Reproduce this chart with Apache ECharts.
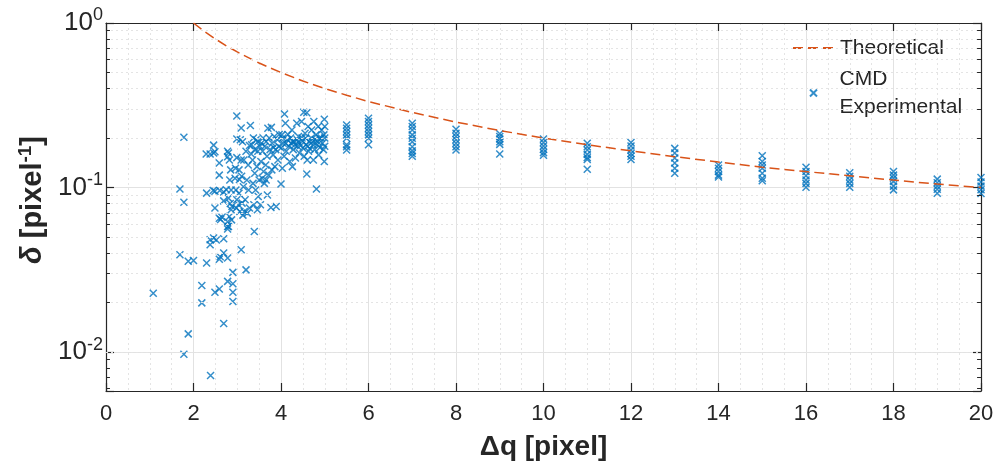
<!DOCTYPE html>
<html><head><meta charset="utf-8">
<script src="https://cdn.jsdelivr.net/npm/echarts@6/dist/echarts.min.js"></script>
<style>html,body{margin:0;padding:0;background:#fff}#c{width:996px;height:463px}</style>
</head><body><div id="c"></div>
<script>
// Theoretical curve
const theoryX = [2,2.25,2.5,2.75,3,3.5,4,4.5,5,5.5,6,7,8,9,10,11,12,13,14,15,16,17,18,19,20];
const theoryY = [1,0.889,0.8,0.727,0.667,0.571,0.5,0.444,0.4,0.364,0.333,0.286,0.25,0.222,0.2,0.182,0.167,0.154,0.143,0.133,0.125,0.118,0.111,0.105,0.1];

// CMD experimental points, cluster region (x, delta)
const cmdCluster = [
[1.08,0.0228],[1.78,0.202],[1.69,0.098],[1.78,0.0815],[1.69,0.039],[1.88,0.0356],[2.0,0.036],[1.88,0.0129],[1.78,0.0097],[2.39,0.0072],
[2.30,0.0348],[2.19,0.0254],[2.19,0.0199],[2.49,0.0231],[2.59,0.0242],[2.69,0.0149],[2.78,0.0269],[2.90,0.026],[2.90,0.0231],[2.90,0.0203],[2.90,0.0305],[3.20,0.0316],[3.09,0.0419],[3.39,0.054],
[2.59,0.0367],[2.61,0.038],[2.69,0.040],[2.78,0.0373],[2.38,0.0482],[2.46,0.0493],[2.52,0.048],[2.38,0.0449],[2.69,0.0489],
[2.59,0.065],[2.65,0.066],[2.62,0.064],[2.78,0.058],[2.78,0.056],[2.78,0.062],[2.49,0.075],[2.69,0.083],[2.30,0.0925],[2.49,0.095],[2.69,0.094],
[2.45,0.096],[2.60,0.096],[2.75,0.097],
[2.59,0.119],[2.59,0.141],[2.29,0.160],[2.38,0.160],[2.46,0.162],[2.49,0.165],[2.46,0.181],[2.78,0.166],[2.78,0.154],
[2.99,0.272],[3.09,0.230],[2.99,0.197],[3.07,0.195],[2.99,0.152],[3.09,0.147],
[2.80,0.162],[2.82,0.147],[2.85,0.128],[2.83,0.111],[2.86,0.0967],[2.80,0.0862],[2.84,0.080],[2.88,0.0767],[2.86,0.0732],[2.82,0.0667],[2.87,0.0636],[2.80,0.058],
[2.96,0.131],[3.04,0.128],[2.95,0.114],[3.05,0.112],[2.97,0.0967],[3.04,0.0924],[2.99,0.0842],[3.03,0.0785],[2.98,0.075],[3.06,0.0715],
[3.12,0.19],[3.20,0.166],[3.15,0.147],[3.25,0.137],[3.10,0.117],[3.22,0.111],[3.14,0.101],[3.26,0.0967],[3.18,0.0842],[3.11,0.0804],[3.28,0.075],[3.16,0.0715],[3.23,0.0699],[3.13,0.068],
[3.30,0.238],[3.37,0.20],[3.43,0.195],[3.33,0.182],[3.47,0.166],[3.35,0.147],[3.45,0.134],[3.40,0.122],[3.50,0.111],[3.36,0.106],[3.42,0.0967],[3.48,0.0882],[3.38,0.0785],[3.46,0.0732],
[3.70,0.229],[3.55,0.186],[3.63,0.178],[3.58,0.166],[3.68,0.155],[3.54,0.144],[3.65,0.137],[3.60,0.125],[3.72,0.119],[3.57,0.114],[3.66,0.111],[3.62,0.106],[3.69,0.090],[3.53,0.0785],
[3.78,0.232],[3.85,0.204],[3.92,0.195],[3.80,0.186],[3.95,0.178],[3.88,0.17],[3.82,0.158],[3.93,0.147],[3.86,0.134],[3.79,0.128],[3.89,0.0767],[3.77,0.0757],
[4.08,0.28],[4.10,0.246],[4.02,0.209],[4.15,0.195],[4.05,0.186],[4.18,0.178],[4.00,0.174],[4.12,0.166],[4.07,0.155],[4.20,0.144],[4.03,0.131],[4.00,0.105],
[4.36,0.246],[4.25,0.224],[4.40,0.204],[4.30,0.19],[4.23,0.186],[4.38,0.178],[4.28,0.17],[4.42,0.162],[4.33,0.151],[4.26,0.134],
[4.52,0.287],[4.59,0.285],[4.47,0.252],[4.62,0.235],[4.55,0.214],[4.48,0.20],[4.65,0.19],[4.57,0.182],[4.50,0.174],[4.63,0.166],[4.53,0.155],[4.60,0.147],[4.59,0.121],
[4.75,0.252],[4.85,0.235],[4.70,0.224],[4.80,0.209],[4.88,0.20],[4.72,0.19],[4.83,0.182],[4.77,0.17],[4.86,0.158],[4.74,0.147],[4.81,0.098],
[4.99,0.26],[5.00,0.235],[4.93,0.224],[4.98,0.209],[5.00,0.20],[4.95,0.186],[5.00,0.178],[4.97,0.17],[4.99,0.144],
[3.96,0.21],[4.04,0.2],[4.11,0.185],[4.16,0.21],[4.22,0.2],[4.27,0.19],[4.32,0.182],[4.37,0.195],[4.41,0.188],[4.45,0.18],[4.49,0.192],[4.56,0.2],[4.61,0.178],[4.66,0.172],[4.69,0.2],[4.73,0.182],[4.78,0.195],[4.84,0.19],[4.89,0.175],[4.92,0.2],
[3.73,0.2],[3.66,0.19],[3.59,0.2],[3.52,0.178],[3.47,0.19],[3.40,0.17],[3.32,0.16],[3.28,0.18],[3.75,0.17],[3.83,0.175]
];

// CMD experimental points, discrete columns
const columnX = [5.5,6,7,8,9,10,11,12,13,14,15,16,17,18,19,20];
const columnY = [
[0.240,0.229,0.219,0.209,0.1995,0.182,0.177,0.169],
[0.264,0.252,0.240,0.229,0.219,0.209,0.1995,0.182],
[0.246,0.235,0.224,0.209,0.1995,0.190,0.177,0.167,0.161,0.155],
[0.226,0.214,0.204,0.195,0.186,0.177,0.169],
[0.212,0.204,0.197,0.190,0.183,0.160],
[0.197,0.188,0.179,0.171,0.163,0.157],
[0.186,0.177,0.169,0.159,0.152,0.148,0.129],
[0.188,0.179,0.169,0.161,0.155,0.148],
[0.173,0.162,0.151,0.141,0.131,0.122],
[0.137,0.131,0.125,0.119,0.116],
[0.156,0.144,0.137,0.131,0.122,0.114,0.110],
[0.133,0.125,0.118,0.111,0.106,0.1005],
[0.123,0.117,0.111,0.106,0.1005],
[0.125,0.119,0.114,0.109,0.102,0.0968],
[0.1125,0.107,0.102,0.0977,0.0924],
[0.115,0.108,0.102,0.097,0.092]
];

const yDecades = [0.01, 0.1, 1];
const yDecadeExp = ['-2', '-1', '0'];
const yMinorGrid = [0.006,0.007,0.008,0.009,0.02,0.03,0.04,0.05,0.06,0.07,0.08,0.09,0.2,0.3,0.4,0.5,0.6,0.7,0.8,0.9];

const names = { theory: 'Theoretical', cmd: 'CMD\nExperimental' };

const cmdData = cmdCluster.slice();
columnX.forEach((x, i) => columnY[i].forEach(v => cmdData.push([x, v])));
const theoryData = theoryX.map((x, i) => [x, theoryY[i]]);

const FONT = "'Liberation Sans', Arial, sans-serif";
const TXT = '#262626';
const BLUE = '#0072BD';
const ORANGE = '#D95319';
const XMIN = 0, XMAX = 20;
const YMIN = 0.0058, YMAX = 1;
const MINOR_TICK = 0.09; // minor tick length in x units (~4px)

const chart = echarts.init(document.getElementById('c'), null, {renderer: 'canvas'});

function yLabel(v) {
  for (let i = 0; i < yDecades.length; i++) {
    if (Math.abs(Math.log10(v) - Math.log10(yDecades[i])) < 1e-6) return '{b|10}{s|' + yDecadeExp[i] + '}';
  }
  return '';
}

const minorTickLines = [];
yMinorGrid.forEach(v => {
  minorTickLines.push([{coord: [XMIN, v]}, {coord: [XMIN + MINOR_TICK, v]}]);
  minorTickLines.push([{coord: [XMAX, v]}, {coord: [XMAX - MINOR_TICK, v]}]);
});

chart.setOption({
  animation: false,
  backgroundColor: '#ffffff',
  textStyle: {fontFamily: FONT},
  grid: {left: 106, right: 15, top: 23, bottom: 72, containLabel: false, outerBoundsMode: 'none'},
  legend: [
    {data: [names.theory], left: 792, top: 34, padding: 0, itemWidth: 42, itemHeight: 14, itemGap: 4,
     itemStyle: {color: 'rgba(0,0,0,0)', borderColor: 'rgba(0,0,0,0)', borderWidth: 0},
     textStyle: {fontSize: 21, color: TXT, fontFamily: FONT, lineHeight: 28}, selectedMode: false},
    {data: [names.cmd], left: 809, top: 65, padding: 0, itemWidth: 42, itemHeight: 7, itemGap: 4,
     textStyle: {fontSize: 21, color: TXT, fontFamily: FONT, lineHeight: 28}, selectedMode: false}
  ],
  xAxis: [
    {type: 'value', min: XMIN, max: XMAX, interval: 2, position: 'bottom',
     name: 'Δq [pixel]', nameLocation: 'middle', nameGap: 42,
     nameTextStyle: {fontSize: 28, fontWeight: 'bold', color: TXT, fontFamily: FONT},
     axisLine: {show: true, onZero: false, lineStyle: {color: TXT, width: 1.2}},
     axisTick: {show: true, inside: true, length: 8, lineStyle: {color: TXT, width: 1.2}},
     axisLabel: {fontSize: 22, color: TXT, margin: 12, fontFamily: FONT},
     splitLine: {show: true, lineStyle: {color: '#e2e2e2', width: 1}},
     minorTick: {show: false, splitNumber: 4},
     minorSplitLine: {show: true, lineStyle: {color: '#e4e4e4', width: 1, type: [2, 3]}}
    },
    {type: 'value', min: XMIN, max: XMAX, interval: 2, position: 'top',
     axisLine: {show: true, onZero: false, lineStyle: {color: TXT, width: 1.2}},
     axisTick: {show: true, inside: true, length: 8, lineStyle: {color: TXT, width: 1.2}},
     axisLabel: {show: false}, splitLine: {show: false}}
  ],
  yAxis: [
    {type: 'log', logBase: 10, min: YMIN, max: YMAX, position: 'left',
     name: '{d|δ} [pixel{s|-1}]', nameLocation: 'middle', nameGap: 56, nameRotate: 90,
     nameTextStyle: {fontSize: 29, fontWeight: 'bold', color: TXT, fontFamily: FONT, padding: [0, 0, 0, 14],
       rich: {d: {fontSize: 29, fontWeight: 'bold', fontStyle: 'italic', color: TXT, fontFamily: FONT},
              s: {fontSize: 19, fontWeight: 'bold', color: TXT, fontFamily: FONT, padding: [0, 0, 13, 0]}}},
     axisLine: {show: true, onZero: false, lineStyle: {color: TXT, width: 1.2}},
     axisTick: {show: true, inside: true, length: 8, lineStyle: {color: TXT, width: 1.2}},
     axisLabel: {formatter: yLabel, margin: 3, color: TXT,
       rich: {b: {fontSize: 26, color: TXT, fontFamily: FONT},
              s: {fontSize: 18, color: TXT, fontFamily: FONT, padding: [0, 0, 15, 0]}}},
     splitLine: {show: true, lineStyle: {color: '#e2e2e2', width: 1}}
    },
    {type: 'log', logBase: 10, min: YMIN, max: YMAX, position: 'right',
     axisLine: {show: true, onZero: false, lineStyle: {color: TXT, width: 1.2}},
     axisTick: {show: true, inside: true, length: 8, lineStyle: {color: TXT, width: 1.2}},
     axisLabel: {show: false}, splitLine: {show: false}}
  ],
  series: [
    {name: '_minorgrid', type: 'line', data: [], silent: true, z: 0,
     markLine: {silent: true, symbol: 'none', animation: false, label: {show: false},
       lineStyle: {color: '#e4e4e4', width: 1, type: [2, 3]},
       data: yMinorGrid.map(v => ({yAxis: v}))}},
    {name: '_minorticks', type: 'line', data: [], silent: true, z: 5,
     markLine: {silent: true, symbol: 'none', animation: false, label: {show: false},
       lineStyle: {color: TXT, width: 1, type: 'solid'},
       data: minorTickLines}},
    {name: names.cmd, type: 'scatter', data: cmdData, z: 3,
     symbol: 'path://M0,0L10,10M10,0L0,10', symbolSize: 7,
     itemStyle: {color: 'rgba(0,0,0,0)', borderColor: BLUE, borderWidth: 1.5}},
    {name: names.theory, type: 'line', data: theoryData, z: 4, symbol: 'none', showSymbol: false,
     lineStyle: {color: ORANGE, width: 1.5, type: [10, 5]}, itemStyle: {color: ORANGE}}
  ]
});
</script>
</body></html>
